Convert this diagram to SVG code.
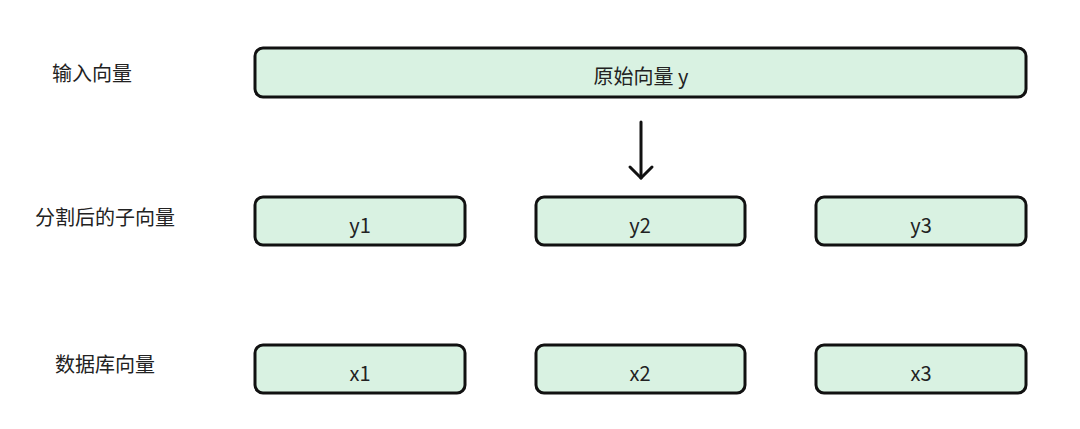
<svg xmlns="http://www.w3.org/2000/svg" width="1080" height="429" viewBox="0 0 1080 429">
<style>
.b{fill:#d9f2e2;stroke:#111;stroke-width:3}
.t{font-family:"Noto Sans CJK SC","Noto Sans",sans-serif;font-size:20px;fill:#222;text-anchor:middle;dominant-baseline:central}
</style>
<rect width="1080" height="429" fill="#fff"/>
<g id="labels">
<text class="t" x="92" y="72">输入向量</text>
<text class="t" x="105" y="216">分割后的子向量</text>
<text class="t" x="105" y="363">数据库向量</text>
</g>
<g id="y"><rect class="b" x="255" y="48" width="771" height="49" rx="8"/><text class="t" x="641" y="75">原始向量 y</text></g>
<g id="y1"><rect class="b" x="255" y="197" width="210" height="48" rx="8"/><text class="t" x="360" y="224">y1</text></g>
<g id="y2"><rect class="b" x="536" y="197" width="209" height="48" rx="8"/><text class="t" x="640" y="224">y2</text></g>
<g id="y3"><rect class="b" x="816" y="197" width="210" height="48" rx="8"/><text class="t" x="921" y="224">y3</text></g>
<g id="x1"><rect class="b" x="255" y="345" width="210" height="48" rx="8"/><text class="t" x="360" y="372">x1</text></g>
<g id="x2"><rect class="b" x="536" y="345" width="209" height="48" rx="8"/><text class="t" x="640" y="372">x2</text></g>
<g id="x3"><rect class="b" x="816" y="345" width="210" height="48" rx="8"/><text class="t" x="921" y="372">x3</text></g>
<g id="connectors" fill="none" stroke="#111" stroke-width="3" stroke-linecap="round" stroke-linejoin="round">
<path d="M641 122 V178"/><path d="M630 167 L641 178 L652 167"/>
</g>
</svg>
